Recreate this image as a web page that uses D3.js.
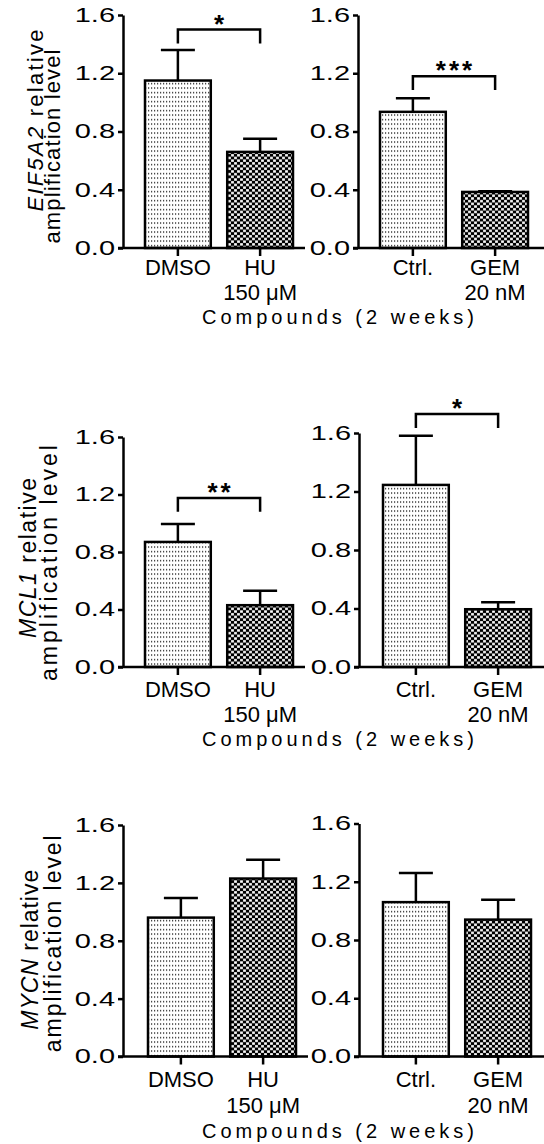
<!DOCTYPE html>
<html>
<head>
<meta charset="utf-8">
<script src="https://cdn.jsdelivr.net/npm/d3@7"></script>
<style>
  body { margin: 0; background: #fff; }
  text { font-family: Arial, "Liberation Sans", sans-serif; fill: #000; }
</style>
</head>
<body>
<div id="chart"></div>
<script>
// data
const genes = ['EIF5A2', 'MCL1', 'MYCN'];
const huGroups = ['DMSO', 'HU'];
const gemGroups = ['Ctrl.', 'GEM'];
const huDose = ['', '150 \u03bcM'];
const gemDose = ['', '20 nM'];
const huMeans = [[1.15, 0.66], [0.87, 0.43], [0.96, 1.23]];
const huErr = [[0.21, 0.09], [0.125, 0.10], [0.135, 0.13]];
const gemMeans = [[0.935, 0.385], [1.245, 0.395], [1.06, 0.94]];
const gemErr = [[0.093, 0.005], [0.337, 0.047], [0.20, 0.137]];
const huStars = ['*', '**', ''];
const gemStars = ['***', '*', ''];
const huBracket = [1.50, 1.175, null];
const gemBracket = [1.18, 1.73, null];
const yTicks = [0, 0.4, 0.8, 1.2, 1.6];
const xTitle = 'Compounds (2 weeks)';

const width = 544, height = 1144;

// where each row sits on the page (the panels were pasted in separately)
const rows = [
  { base: 248, left: { ax: 123, top: 15, pad: 22 }, right: { ax: 358, top: 15, pad: 22 },
    labels: [27, 52, 76],
    title: { size: 22, y1: 43, y2: 60, len1: 182, len2: 194, d1: -11, d2: 15 } },
  { base: 667, left: { ax: 123, top: 437, pad: 22 }, right: { ax: 359, top: 433, pad: 24 },
    labels: [30, 55, 79],
    title: { size: 23, y1: 36, y2: 57, len1: 160, len2: 236, d1: 6, d2: 11 } },
  { base: 1056.5, left: { ax: 123, top: 825, pad: 25 }, right: { ax: 359, top: 823.5, pad: 24 },
    labels: [30, 56, 81],
    title: { size: 23, y1: 38, y2: 61, len1: 160, len2: 217, d1: 9, d2: 3 } }
];

const svg = d3.select('#chart').append('svg')
  .attr('width', width)
  .attr('height', height);

const defs = svg.append('defs');

const dots = defs.append('pattern')
  .attr('id', 'dots')
  .attr('patternUnits', 'userSpaceOnUse')
  .attr('width', 3).attr('height', 4.5);
dots.append('rect').attr('width', 3).attr('height', 4.5).attr('fill', '#fff');
dots.append('rect').attr('x', 1).attr('y', 2).attr('width', 1.2).attr('height', 1.2).attr('fill', '#000');

const check = defs.append('pattern')
  .attr('id', 'check')
  .attr('patternUnits', 'userSpaceOnUse')
  .attr('width', 6).attr('height', 5.4);
check.append('rect').attr('width', 6).attr('height', 5.4).attr('fill', '#000');
check.append('rect').attr('x', 0.1).attr('y', 0.15).attr('width', 2.8).attr('height', 2.4).attr('fill', '#fff');
check.append('rect').attr('x', 3.1).attr('y', 2.85).attr('width', 2.8).attr('height', 2.4).attr('fill', '#fff');

const fills = ['url(#dots)', 'url(#check)'];
const lw = 2.5;

function drawPanel(frame, base, labels, groups, dose, means, errs, stars, bracket, isLeft) {
  const g = svg.append('g');

  const y = d3.scaleLinear().domain([0, 1.6]).range([base, frame.top]);
  const x = d3.scaleBand()
    .domain(groups)
    .range([frame.ax + frame.pad, frame.ax + frame.pad + 148])
    .paddingInner(0.2);

  const axisEnd = isLeft ? x.range()[1] + 12 : width;

  // bars
  g.selectAll('rect.bar')
    .data(groups)
    .enter()
    .append('rect')
    .attr('class', 'bar')
    .attr('x', (d) => x(d))
    .attr('width', x.bandwidth())
    .attr('y', (d, i) => y(means[i]))
    .attr('height', (d, i) => base - y(means[i]))
    .attr('fill', (d, i) => fills[i])
    .attr('stroke', '#000')
    .attr('stroke-width', lw);

  // upper error bars only
  const cap = 34;
  groups.forEach((d, i) => {
    const cx = x(d) + x.bandwidth() / 2;
    g.append('line')
      .attr('x1', cx).attr('x2', cx)
      .attr('y1', y(means[i])).attr('y2', y(means[i] + errs[i]))
      .attr('stroke', '#000').attr('stroke-width', lw);
    g.append('line')
      .attr('x1', cx - cap / 2).attr('x2', cx + cap / 2)
      .attr('y1', y(means[i] + errs[i])).attr('y2', y(means[i] + errs[i]))
      .attr('stroke', '#000').attr('stroke-width', lw);
  });

  // y axis, labels are drawn wide like the original
  const yAxis = g.append('g')
    .attr('transform', `translate(${frame.ax},0)`)
    .call(d3.axisLeft(y).tickValues(yTicks).tickFormat(d3.format('.1f')).tickSize(5).tickSizeOuter(0));
  yAxis.selectAll('path, line').attr('stroke', '#000').attr('stroke-width', lw);
  yAxis.selectAll('text')
    .attr('font-size', 20)
    .attr('font-family', 'Arial, "Liberation Sans", sans-serif')
    .attr('x', -8 / 1.45)
    .attr('transform', 'scale(1.45,1)');

  // x axis
  const xAxis = g.append('g')
    .attr('transform', `translate(0,${base})`)
    .call(d3.axisBottom(x).tickSize(8).tickSizeOuter(0).tickFormat(''));
  xAxis.select('.domain').remove();
  xAxis.selectAll('line').attr('stroke', '#000').attr('stroke-width', lw);
  xAxis.append('line')
    .attr('x1', frame.ax - 5).attr('x2', axisEnd)
    .attr('stroke', '#000').attr('stroke-width', lw);

  // category labels
  g.selectAll('text.cat')
    .data(groups)
    .enter()
    .append('text')
    .attr('class', 'cat')
    .attr('x', (d) => x(d) + x.bandwidth() / 2)
    .attr('y', base + labels[0])
    .attr('text-anchor', 'middle')
    .attr('font-size', 22)
    .text((d) => d);
  g.selectAll('text.dose')
    .data(dose)
    .enter()
    .append('text')
    .attr('class', 'dose')
    .attr('x', (d, i) => x(groups[i]) + x.bandwidth() / 2)
    .attr('y', base + labels[1])
    .attr('text-anchor', 'middle')
    .attr('font-size', 22)
    .text((d) => d);

  // significance bracket
  if (bracket !== null) {
    const x1 = x(groups[0]) + x.bandwidth() / 2;
    const x2 = x(groups[1]) + x.bandwidth() / 2;
    const yb = y(bracket);
    const yd = y(bracket - 0.095);
    g.append('path')
      .attr('d', `M${x1},${yd}V${yb}H${x2}V${yd}`)
      .attr('fill', 'none')
      .attr('stroke', '#000')
      .attr('stroke-width', lw);
    g.append('text')
      .attr('x', (x1 + x2) / 2 + 1.5)
      .attr('y', yb + 3)
      .attr('text-anchor', 'middle')
      .attr('font-size', 26)
      .attr('font-weight', 'bold')
      .attr('letter-spacing', 3)
      .text(stars);
  }
  return y;
}

rows.forEach((row, r) => {
  drawPanel(row.left, row.base, row.labels, huGroups, huDose, huMeans[r], huErr[r], huStars[r], huBracket[r], true);
  drawPanel(row.right, row.base, row.labels, gemGroups, gemDose, gemMeans[r], gemErr[r], gemStars[r], gemBracket[r], false);

  // y title, two lines
  const tt = row.title;
  const cy = (row.base + row.left.top) / 2;
  const t = svg.append('g').attr('transform', `translate(0,${cy}) rotate(-90)`);
  const l1 = t.append('text')
    .attr('x', -tt.d1).attr('y', tt.y1)
    .attr('text-anchor', 'middle')
    .attr('font-size', tt.size)
    .attr('textLength', tt.len1)
    .attr('lengthAdjust', 'spacing');
  l1.append('tspan').attr('font-style', 'italic').text(genes[r]);
  l1.append('tspan').text(' relative');
  t.append('text')
    .attr('x', -tt.d2).attr('y', tt.y2)
    .attr('text-anchor', 'middle')
    .attr('font-size', tt.size)
    .attr('textLength', tt.len2)
    .attr('lengthAdjust', 'spacing')
    .text('amplification level');

  // x title
  svg.append('text')
    .attr('x', 338)
    .attr('y', row.base + row.labels[2])
    .attr('text-anchor', 'middle')
    .attr('font-size', 20)
    .attr('textLength', 272)
    .attr('lengthAdjust', 'spacing')
    .text(xTitle);
});
</script>
</body>
</html>
